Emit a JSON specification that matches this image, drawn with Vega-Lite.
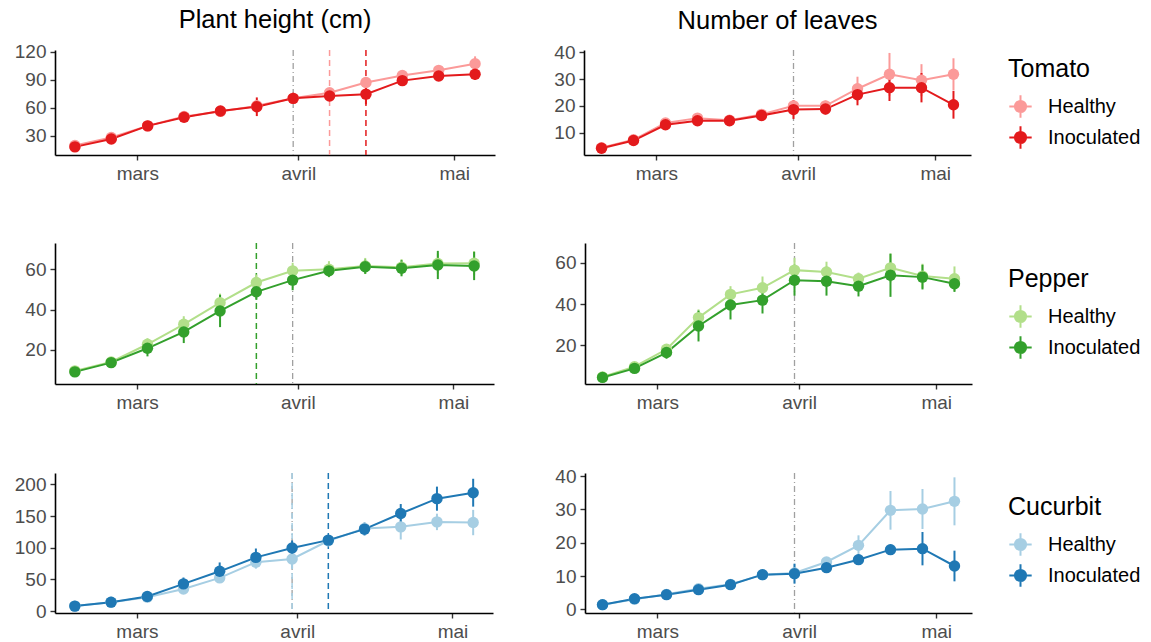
{
"$schema": "https://vega.github.io/schema/vega-lite/v6.json",
"padding": {"left": 14, "top": 8, "right": 0, "bottom": 0},
"columns": 1,
"spacing": 59,
"align": "none",
"resolve": {"scale": {"color": "independent"}, "legend": {"color": "independent"}},
"datasets": {
"main": [
{"c":"Tomato","t":"h","g":"Healthy","d":"2023-02-17","m":19.5,"e":2},
{"c":"Tomato","t":"h","g":"Healthy","d":"2023-02-24","m":28,"e":2},
{"c":"Tomato","t":"h","g":"Healthy","d":"2023-03-03","m":40.5,"e":2},
{"c":"Tomato","t":"h","g":"Healthy","d":"2023-03-10","m":50.5,"e":2},
{"c":"Tomato","t":"h","g":"Healthy","d":"2023-03-17","m":56,"e":4},
{"c":"Tomato","t":"h","g":"Healthy","d":"2023-03-24","m":62,"e":4},
{"c":"Tomato","t":"h","g":"Healthy","d":"2023-03-31","m":70,"e":5},
{"c":"Tomato","t":"h","g":"Healthy","d":"2023-04-07","m":76,"e":3},
{"c":"Tomato","t":"h","g":"Healthy","d":"2023-04-14","m":87,"e":4},
{"c":"Tomato","t":"h","g":"Healthy","d":"2023-04-21","m":94.5,"e":4},
{"c":"Tomato","t":"h","g":"Healthy","d":"2023-04-28","m":100,"e":4},
{"c":"Tomato","t":"h","g":"Healthy","d":"2023-05-05","m":107,"e":8},
{"c":"Tomato","t":"l","g":"Healthy","d":"2023-02-17","m":4.3,"e":0.5},
{"c":"Tomato","t":"l","g":"Healthy","d":"2023-02-24","m":7.3,"e":0.7},
{"c":"Tomato","t":"l","g":"Healthy","d":"2023-03-03","m":13.6,"e":1},
{"c":"Tomato","t":"l","g":"Healthy","d":"2023-03-10","m":15.4,"e":1.2},
{"c":"Tomato","t":"l","g":"Healthy","d":"2023-03-17","m":14.6,"e":1},
{"c":"Tomato","t":"l","g":"Healthy","d":"2023-03-24","m":16.8,"e":1},
{"c":"Tomato","t":"l","g":"Healthy","d":"2023-03-31","m":20,"e":2},
{"c":"Tomato","t":"l","g":"Healthy","d":"2023-04-07","m":20,"e":2},
{"c":"Tomato","t":"l","g":"Healthy","d":"2023-04-14","m":26.4,"e":4.5},
{"c":"Tomato","t":"l","g":"Healthy","d":"2023-04-21","m":31.8,"e":8},
{"c":"Tomato","t":"l","g":"Healthy","d":"2023-04-28","m":29.6,"e":6},
{"c":"Tomato","t":"l","g":"Healthy","d":"2023-05-05","m":31.8,"e":6},
{"c":"Pepper","t":"h","g":"Healthy","d":"2023-02-17","m":9.6,"e":1},
{"c":"Pepper","t":"h","g":"Healthy","d":"2023-02-24","m":14,"e":1.5},
{"c":"Pepper","t":"h","g":"Healthy","d":"2023-03-03","m":22.8,"e":3},
{"c":"Pepper","t":"h","g":"Healthy","d":"2023-03-10","m":32.7,"e":4},
{"c":"Pepper","t":"h","g":"Healthy","d":"2023-03-17","m":43.4,"e":4.5},
{"c":"Pepper","t":"h","g":"Healthy","d":"2023-03-24","m":53.4,"e":4},
{"c":"Pepper","t":"h","g":"Healthy","d":"2023-03-31","m":59.2,"e":4},
{"c":"Pepper","t":"h","g":"Healthy","d":"2023-04-07","m":60,"e":4},
{"c":"Pepper","t":"h","g":"Healthy","d":"2023-04-14","m":61.6,"e":4},
{"c":"Pepper","t":"h","g":"Healthy","d":"2023-04-21","m":61,"e":4},
{"c":"Pepper","t":"h","g":"Healthy","d":"2023-04-28","m":62.8,"e":5},
{"c":"Pepper","t":"h","g":"Healthy","d":"2023-05-05","m":63,"e":6},
{"c":"Pepper","t":"l","g":"Healthy","d":"2023-02-17","m":4.5,"e":0.5},
{"c":"Pepper","t":"l","g":"Healthy","d":"2023-02-24","m":9.5,"e":1},
{"c":"Pepper","t":"l","g":"Healthy","d":"2023-03-03","m":18,"e":2},
{"c":"Pepper","t":"l","g":"Healthy","d":"2023-03-10","m":33.4,"e":4},
{"c":"Pepper","t":"l","g":"Healthy","d":"2023-03-17","m":44.7,"e":4},
{"c":"Pepper","t":"l","g":"Healthy","d":"2023-03-24","m":47.9,"e":5.5},
{"c":"Pepper","t":"l","g":"Healthy","d":"2023-03-31","m":56.5,"e":6},
{"c":"Pepper","t":"l","g":"Healthy","d":"2023-04-07","m":55.6,"e":5},
{"c":"Pepper","t":"l","g":"Healthy","d":"2023-04-14","m":52.3,"e":3},
{"c":"Pepper","t":"l","g":"Healthy","d":"2023-04-21","m":57.6,"e":7},
{"c":"Pepper","t":"l","g":"Healthy","d":"2023-04-28","m":53.6,"e":6},
{"c":"Pepper","t":"l","g":"Healthy","d":"2023-05-05","m":52.3,"e":6},
{"c":"Cucurbit","t":"h","g":"Healthy","d":"2023-02-17","m":7.9,"e":2},
{"c":"Cucurbit","t":"h","g":"Healthy","d":"2023-02-24","m":14,"e":2},
{"c":"Cucurbit","t":"h","g":"Healthy","d":"2023-03-03","m":22,"e":3},
{"c":"Cucurbit","t":"h","g":"Healthy","d":"2023-03-10","m":35,"e":5},
{"c":"Cucurbit","t":"h","g":"Healthy","d":"2023-03-17","m":52.4,"e":8},
{"c":"Cucurbit","t":"h","g":"Healthy","d":"2023-03-24","m":77,"e":10},
{"c":"Cucurbit","t":"h","g":"Healthy","d":"2023-03-31","m":82.3,"e":15},
{"c":"Cucurbit","t":"h","g":"Healthy","d":"2023-04-07","m":111,"e":8},
{"c":"Cucurbit","t":"h","g":"Healthy","d":"2023-04-14","m":130.3,"e":10},
{"c":"Cucurbit","t":"h","g":"Healthy","d":"2023-04-21","m":133,"e":20},
{"c":"Cucurbit","t":"h","g":"Healthy","d":"2023-04-28","m":140.8,"e":13},
{"c":"Cucurbit","t":"h","g":"Healthy","d":"2023-05-05","m":139.8,"e":20},
{"c":"Cucurbit","t":"l","g":"Healthy","d":"2023-02-17","m":1.4,"e":0.3},
{"c":"Cucurbit","t":"l","g":"Healthy","d":"2023-02-24","m":3,"e":0.5},
{"c":"Cucurbit","t":"l","g":"Healthy","d":"2023-03-03","m":4.5,"e":0.7},
{"c":"Cucurbit","t":"l","g":"Healthy","d":"2023-03-10","m":6.2,"e":0.8},
{"c":"Cucurbit","t":"l","g":"Healthy","d":"2023-03-17","m":7.5,"e":1},
{"c":"Cucurbit","t":"l","g":"Healthy","d":"2023-03-24","m":10.4,"e":1},
{"c":"Cucurbit","t":"l","g":"Healthy","d":"2023-03-31","m":10.9,"e":1.5},
{"c":"Cucurbit","t":"l","g":"Healthy","d":"2023-04-07","m":14.2,"e":1.5},
{"c":"Cucurbit","t":"l","g":"Healthy","d":"2023-04-14","m":19.2,"e":3},
{"c":"Cucurbit","t":"l","g":"Healthy","d":"2023-04-21","m":29.7,"e":5.8},
{"c":"Cucurbit","t":"l","g":"Healthy","d":"2023-04-28","m":30.1,"e":6},
{"c":"Cucurbit","t":"l","g":"Healthy","d":"2023-05-05","m":32.4,"e":7.2},
{"c":"Tomato","t":"h","g":"Inoculated","d":"2023-02-17","m":18,"e":2},
{"c":"Tomato","t":"h","g":"Inoculated","d":"2023-02-24","m":26.5,"e":2},
{"c":"Tomato","t":"h","g":"Inoculated","d":"2023-03-03","m":40.5,"e":2},
{"c":"Tomato","t":"h","g":"Inoculated","d":"2023-03-10","m":49.7,"e":2},
{"c":"Tomato","t":"h","g":"Inoculated","d":"2023-03-17","m":56.5,"e":3},
{"c":"Tomato","t":"h","g":"Inoculated","d":"2023-03-24","m":61,"e":10},
{"c":"Tomato","t":"h","g":"Inoculated","d":"2023-03-31","m":70,"e":6},
{"c":"Tomato","t":"h","g":"Inoculated","d":"2023-04-07","m":72.5,"e":3},
{"c":"Tomato","t":"h","g":"Inoculated","d":"2023-04-14","m":74.5,"e":11},
{"c":"Tomato","t":"h","g":"Inoculated","d":"2023-04-21","m":89,"e":4},
{"c":"Tomato","t":"h","g":"Inoculated","d":"2023-04-28","m":94,"e":5},
{"c":"Tomato","t":"h","g":"Inoculated","d":"2023-05-05","m":95.8,"e":6},
{"c":"Tomato","t":"l","g":"Inoculated","d":"2023-02-17","m":4.1,"e":0.5},
{"c":"Tomato","t":"l","g":"Inoculated","d":"2023-02-24","m":7,"e":0.7},
{"c":"Tomato","t":"l","g":"Inoculated","d":"2023-03-03","m":12.9,"e":1},
{"c":"Tomato","t":"l","g":"Inoculated","d":"2023-03-10","m":14.4,"e":1},
{"c":"Tomato","t":"l","g":"Inoculated","d":"2023-03-17","m":14.4,"e":1},
{"c":"Tomato","t":"l","g":"Inoculated","d":"2023-03-24","m":16.4,"e":1},
{"c":"Tomato","t":"l","g":"Inoculated","d":"2023-03-31","m":18.6,"e":3.5},
{"c":"Tomato","t":"l","g":"Inoculated","d":"2023-04-07","m":18.8,"e":2},
{"c":"Tomato","t":"l","g":"Inoculated","d":"2023-04-14","m":24.2,"e":4},
{"c":"Tomato","t":"l","g":"Inoculated","d":"2023-04-21","m":26.8,"e":5},
{"c":"Tomato","t":"l","g":"Inoculated","d":"2023-04-28","m":26.8,"e":5.5},
{"c":"Tomato","t":"l","g":"Inoculated","d":"2023-05-05","m":20.4,"e":5.2},
{"c":"Pepper","t":"h","g":"Inoculated","d":"2023-02-17","m":9.1,"e":1},
{"c":"Pepper","t":"h","g":"Inoculated","d":"2023-02-24","m":13.7,"e":1.5},
{"c":"Pepper","t":"h","g":"Inoculated","d":"2023-03-03","m":20.8,"e":4},
{"c":"Pepper","t":"h","g":"Inoculated","d":"2023-03-10","m":28.9,"e":5.5},
{"c":"Pepper","t":"h","g":"Inoculated","d":"2023-03-17","m":39.3,"e":8},
{"c":"Pepper","t":"h","g":"Inoculated","d":"2023-03-24","m":48.8,"e":4},
{"c":"Pepper","t":"h","g":"Inoculated","d":"2023-03-31","m":54.6,"e":5},
{"c":"Pepper","t":"h","g":"Inoculated","d":"2023-04-07","m":59.2,"e":3},
{"c":"Pepper","t":"h","g":"Inoculated","d":"2023-04-14","m":61.2,"e":3.5},
{"c":"Pepper","t":"h","g":"Inoculated","d":"2023-04-21","m":60.5,"e":4},
{"c":"Pepper","t":"h","g":"Inoculated","d":"2023-04-28","m":62.1,"e":7},
{"c":"Pepper","t":"h","g":"Inoculated","d":"2023-05-05","m":61.6,"e":7},
{"c":"Pepper","t":"l","g":"Inoculated","d":"2023-02-17","m":4.3,"e":0.5},
{"c":"Pepper","t":"l","g":"Inoculated","d":"2023-02-24","m":8.7,"e":1},
{"c":"Pepper","t":"l","g":"Inoculated","d":"2023-03-03","m":16.4,"e":3},
{"c":"Pepper","t":"l","g":"Inoculated","d":"2023-03-10","m":29.3,"e":7.5},
{"c":"Pepper","t":"l","g":"Inoculated","d":"2023-03-17","m":39.5,"e":7},
{"c":"Pepper","t":"l","g":"Inoculated","d":"2023-03-24","m":41.9,"e":6.5},
{"c":"Pepper","t":"l","g":"Inoculated","d":"2023-03-31","m":51.6,"e":7.5},
{"c":"Pepper","t":"l","g":"Inoculated","d":"2023-04-07","m":51.1,"e":7},
{"c":"Pepper","t":"l","g":"Inoculated","d":"2023-04-14","m":48.7,"e":5},
{"c":"Pepper","t":"l","g":"Inoculated","d":"2023-04-21","m":54,"e":10.5},
{"c":"Pepper","t":"l","g":"Inoculated","d":"2023-04-28","m":53.1,"e":6},
{"c":"Pepper","t":"l","g":"Inoculated","d":"2023-05-05","m":49.9,"e":4},
{"c":"Cucurbit","t":"h","g":"Inoculated","d":"2023-02-17","m":7.9,"e":2},
{"c":"Cucurbit","t":"h","g":"Inoculated","d":"2023-02-24","m":14.1,"e":2},
{"c":"Cucurbit","t":"h","g":"Inoculated","d":"2023-03-03","m":23,"e":3},
{"c":"Cucurbit","t":"h","g":"Inoculated","d":"2023-03-10","m":43,"e":10},
{"c":"Cucurbit","t":"h","g":"Inoculated","d":"2023-03-17","m":62.8,"e":14},
{"c":"Cucurbit","t":"h","g":"Inoculated","d":"2023-03-24","m":84.8,"e":14},
{"c":"Cucurbit","t":"h","g":"Inoculated","d":"2023-03-31","m":99.5,"e":12},
{"c":"Cucurbit","t":"h","g":"Inoculated","d":"2023-04-07","m":112,"e":8},
{"c":"Cucurbit","t":"h","g":"Inoculated","d":"2023-04-14","m":129.4,"e":10},
{"c":"Cucurbit","t":"h","g":"Inoculated","d":"2023-04-21","m":154,"e":15},
{"c":"Cucurbit","t":"h","g":"Inoculated","d":"2023-04-28","m":177.5,"e":19},
{"c":"Cucurbit","t":"h","g":"Inoculated","d":"2023-05-05","m":186.9,"e":22},
{"c":"Cucurbit","t":"l","g":"Inoculated","d":"2023-02-17","m":1.4,"e":0.3},
{"c":"Cucurbit","t":"l","g":"Inoculated","d":"2023-02-24","m":3.2,"e":0.5},
{"c":"Cucurbit","t":"l","g":"Inoculated","d":"2023-03-03","m":4.4,"e":0.7},
{"c":"Cucurbit","t":"l","g":"Inoculated","d":"2023-03-10","m":5.9,"e":0.8},
{"c":"Cucurbit","t":"l","g":"Inoculated","d":"2023-03-17","m":7.4,"e":1},
{"c":"Cucurbit","t":"l","g":"Inoculated","d":"2023-03-24","m":10.4,"e":1},
{"c":"Cucurbit","t":"l","g":"Inoculated","d":"2023-03-31","m":10.7,"e":3},
{"c":"Cucurbit","t":"l","g":"Inoculated","d":"2023-04-07","m":12.5,"e":1.5},
{"c":"Cucurbit","t":"l","g":"Inoculated","d":"2023-04-14","m":14.9,"e":1.5},
{"c":"Cucurbit","t":"l","g":"Inoculated","d":"2023-04-21","m":17.9,"e":1.5},
{"c":"Cucurbit","t":"l","g":"Inoculated","d":"2023-04-28","m":18.2,"e":5},
{"c":"Cucurbit","t":"l","g":"Inoculated","d":"2023-05-05","m":13,"e":4.6}
],
"vl": [
{"c":"Tomato","t":"h","g":"Healthy","d":"2023-04-07"},
{"c":"Tomato","t":"h","g":"Inoculated","d":"2023-04-14"},
{"c":"Pepper","t":"h","g":"Inoculated","d":"2023-03-24"},
{"c":"Cucurbit","t":"h","g":"Healthy","d":"2023-03-31"},
{"c":"Cucurbit","t":"h","g":"Inoculated","d":"2023-04-07"}
],
"ref": [{"d":"2023-03-31"}]
},
"concat": [
{"spacing": 58, "hconcat": [
 {"width": 440, "height": 105,
  "title": {"text": "Plant height (cm)"},
  "layer": [
   {"data": {"name": "ref"}, "mark": {"type": "rule", "color": "#A0A0A0", "strokeWidth": 1.3, "strokeDash": [6,3,1,3]},
    "encoding": {"x": {"field": "d", "type": "temporal", "title": null, "scale": {"type": "utc", "domain": [{"year":2023,"month":2,"date":13,"hours":4,"utc":true},{"year":2023,"month":5,"date":8,"hours":20,"utc":true}]}, "axis": {"values": [{"year":2023,"month":3,"date":1,"utc":true},{"year":2023,"month":4,"date":1,"utc":true},{"year":2023,"month":5,"date":1,"utc":true}], "labelExpr": "['janv.','févr.','mars','avril','mai','juin'][utcmonth(datum.value)]"}}}},
   {"data": {"name": "vl"}, "transform": [{"filter": "datum.c=='Tomato' && datum.t=='h'"}], "mark": {"type": "rule", "strokeWidth": 1.5, "strokeDash": [6,4]},
    "encoding": {"x": {"field": "d", "type": "temporal"}, "color": {"field": "g", "type": "nominal", "title": "Tomato", "legend": {"orient": "none", "legendX": 953, "legendY": 7}, "scale": {"domain": ["Healthy","Inoculated"], "range": ["#FB9A99","#E31A1C"]}}}},
   {"data": {"name": "main"}, "transform": [{"filter": "datum.c=='Tomato' && datum.t=='h'"}],
    "encoding": {"x": {"field": "d", "type": "temporal"}, "y": {"field": "m", "type": "quantitative", "title": null, "scale": {"domain": [9.3,121.8], "nice": false, "zero": false}, "axis": {"values": [30,60,90,120]}}, "color": {"field": "g", "type": "nominal", "title": "Tomato", "legend": {"orient": "none", "legendX": 953, "legendY": 7}, "scale": {"domain": ["Healthy","Inoculated"], "range": ["#FB9A99","#E31A1C"]}}},
    "layer": [
     {"mark": {"type": "errorbar", "thickness": 2}, "encoding": {"yError": {"field": "e"}}},
     {"mark": {"type": "line", "strokeWidth": 2}},
     {"mark": {"type": "point", "filled": true, "size": 130, "opacity": 1}}
    ]}
  ]},
 {"width": 387, "height": 105,
  "title": {"text": "Number of leaves"},
  "layer": [
   {"data": {"name": "ref"}, "mark": {"type": "rule", "color": "#A0A0A0", "strokeWidth": 1.3, "strokeDash": [6,3,1,3]},
    "encoding": {"x": {"field": "d", "type": "temporal", "title": null, "scale": {"type": "utc", "domain": [{"year":2023,"month":2,"date":13,"hours":4,"utc":true},{"year":2023,"month":5,"date":8,"hours":20,"utc":true}]}, "axis": {"values": [{"year":2023,"month":3,"date":1,"utc":true},{"year":2023,"month":4,"date":1,"utc":true},{"year":2023,"month":5,"date":1,"utc":true}], "labelExpr": "['janv.','févr.','mars','avril','mai','juin'][utcmonth(datum.value)]"}}}},
   {"data": {"name": "main"}, "transform": [{"filter": "datum.c=='Tomato' && datum.t=='l'"}],
    "encoding": {"x": {"field": "d", "type": "temporal"}, "y": {"field": "m", "type": "quantitative", "title": null, "scale": {"domain": [1.6,40.9], "nice": false, "zero": false}, "axis": {"values": [10,20,30,40]}}, "color": {"field": "g", "type": "nominal", "title": "Tomato", "legend": {"orient": "none", "legendX": 953, "legendY": 7}, "scale": {"domain": ["Healthy","Inoculated"], "range": ["#FB9A99","#E31A1C"]}}},
    "layer": [
     {"mark": {"type": "errorbar", "thickness": 2}, "encoding": {"yError": {"field": "e"}}},
     {"mark": {"type": "line", "strokeWidth": 2}},
     {"mark": {"type": "point", "filled": true, "size": 130, "opacity": 1}}
    ]}
  ]}
]},
{"columns": 1, "spacing": 54, "align": "none", "resolve": {"scale": {"color": "independent"}, "legend": {"color": "independent"}}, "concat": [
{"spacing": 60, "hconcat": [
 {"width": 439, "height": 141,
  "layer": [
   {"data": {"name": "ref"}, "mark": {"type": "rule", "color": "#A0A0A0", "strokeWidth": 1.3, "strokeDash": [6,3,1,3]},
    "encoding": {"x": {"field": "d", "type": "temporal", "title": null, "scale": {"type": "utc", "domain": [{"year":2023,"month":2,"date":13,"hours":4,"utc":true},{"year":2023,"month":5,"date":8,"hours":20,"utc":true}]}, "axis": {"values": [{"year":2023,"month":3,"date":1,"utc":true},{"year":2023,"month":4,"date":1,"utc":true},{"year":2023,"month":5,"date":1,"utc":true}], "labelExpr": "['janv.','févr.','mars','avril','mai','juin'][utcmonth(datum.value)]"}}}},
   {"data": {"name": "vl"}, "transform": [{"filter": "datum.c=='Pepper' && datum.t=='h'"}], "mark": {"type": "rule", "strokeWidth": 1.5, "strokeDash": [6,4]},
    "encoding": {"x": {"field": "d", "type": "temporal"}, "color": {"field": "g", "type": "nominal", "title": "Pepper", "legend": {"orient": "none", "legendX": 953, "legendY": 24}, "scale": {"domain": ["Healthy","Inoculated"], "range": ["#B2DF8A","#33A02C"]}}}},
   {"data": {"name": "main"}, "transform": [{"filter": "datum.c=='Pepper' && datum.t=='h'"}],
    "encoding": {"x": {"field": "d", "type": "temporal"}, "y": {"field": "m", "type": "quantitative", "title": null, "scale": {"domain": [3.1,73], "nice": false, "zero": false}, "axis": {"values": [20,40,60]}}, "color": {"field": "g", "type": "nominal", "title": "Pepper", "legend": {"orient": "none", "legendX": 953, "legendY": 24}, "scale": {"domain": ["Healthy","Inoculated"], "range": ["#B2DF8A","#33A02C"]}}},
    "layer": [
     {"mark": {"type": "errorbar", "thickness": 2}, "encoding": {"yError": {"field": "e"}}},
     {"mark": {"type": "line", "strokeWidth": 2}},
     {"mark": {"type": "point", "filled": true, "size": 130, "opacity": 1}}
    ]}
  ]},
 {"width": 387, "height": 141,
  "layer": [
   {"data": {"name": "ref"}, "mark": {"type": "rule", "color": "#A0A0A0", "strokeWidth": 1.3, "strokeDash": [6,3,1,3]},
    "encoding": {"x": {"field": "d", "type": "temporal", "title": null, "scale": {"type": "utc", "domain": [{"year":2023,"month":2,"date":13,"hours":4,"utc":true},{"year":2023,"month":5,"date":8,"hours":20,"utc":true}]}, "axis": {"values": [{"year":2023,"month":3,"date":1,"utc":true},{"year":2023,"month":4,"date":1,"utc":true},{"year":2023,"month":5,"date":1,"utc":true}], "labelExpr": "['janv.','févr.','mars','avril','mai','juin'][utcmonth(datum.value)]"}}}},
   {"data": {"name": "main"}, "transform": [{"filter": "datum.c=='Pepper' && datum.t=='l'"}],
    "encoding": {"x": {"field": "d", "type": "temporal"}, "y": {"field": "m", "type": "quantitative", "title": null, "scale": {"domain": [1.1,69.7], "nice": false, "zero": false}, "axis": {"values": [20,40,60]}}, "color": {"field": "g", "type": "nominal", "title": "Pepper", "legend": {"orient": "none", "legendX": 953, "legendY": 24}, "scale": {"domain": ["Healthy","Inoculated"], "range": ["#B2DF8A","#33A02C"]}}},
    "layer": [
     {"mark": {"type": "errorbar", "thickness": 2}, "encoding": {"yError": {"field": "e"}}},
     {"mark": {"type": "line", "strokeWidth": 2}},
     {"mark": {"type": "point", "filled": true, "size": 130, "opacity": 1}}
    ]}
  ]}
]},
{"spacing": 61, "hconcat": [
 {"width": 438, "height": 140,
  "layer": [
   {"data": {"name": "ref"}, "mark": {"type": "rule", "color": "#A0A0A0", "strokeWidth": 1.3, "strokeDash": [6,3,1,3]},
    "encoding": {"x": {"field": "d", "type": "temporal", "title": null, "scale": {"type": "utc", "domain": [{"year":2023,"month":2,"date":13,"hours":4,"utc":true},{"year":2023,"month":5,"date":8,"hours":20,"utc":true}]}, "axis": {"values": [{"year":2023,"month":3,"date":1,"utc":true},{"year":2023,"month":4,"date":1,"utc":true},{"year":2023,"month":5,"date":1,"utc":true}], "labelExpr": "['janv.','févr.','mars','avril','mai','juin'][utcmonth(datum.value)]"}}}},
   {"data": {"name": "vl"}, "transform": [{"filter": "datum.c=='Cucurbit' && datum.t=='h'"}], "mark": {"type": "rule", "strokeWidth": 1.5, "strokeDash": [6,4]},
    "encoding": {"x": {"field": "d", "type": "temporal"}, "color": {"field": "g", "type": "nominal", "title": "Cucurbit", "legend": {"orient": "none", "legendX": 953, "legendY": 22}, "scale": {"domain": ["Healthy","Inoculated"], "range": ["#A6CEE3","#1F78B4"]}}}},
   {"data": {"name": "main"}, "transform": [{"filter": "datum.c=='Cucurbit' && datum.t=='h'"}],
    "encoding": {"x": {"field": "d", "type": "temporal"}, "y": {"field": "m", "type": "quantitative", "title": null, "scale": {"domain": [-3,218], "nice": false, "zero": false}, "axis": {"values": [0,50,100,150,200]}}, "color": {"field": "g", "type": "nominal", "title": "Cucurbit", "legend": {"orient": "none", "legendX": 953, "legendY": 22}, "scale": {"domain": ["Healthy","Inoculated"], "range": ["#A6CEE3","#1F78B4"]}}},
    "layer": [
     {"mark": {"type": "errorbar", "thickness": 2}, "encoding": {"yError": {"field": "e"}}},
     {"mark": {"type": "line", "strokeWidth": 2}},
     {"mark": {"type": "point", "filled": true, "size": 130, "opacity": 1}}
    ]}
  ]},
 {"width": 387, "height": 140,
  "layer": [
   {"data": {"name": "ref"}, "mark": {"type": "rule", "color": "#A0A0A0", "strokeWidth": 1.3, "strokeDash": [6,3,1,3]},
    "encoding": {"x": {"field": "d", "type": "temporal", "title": null, "scale": {"type": "utc", "domain": [{"year":2023,"month":2,"date":13,"hours":4,"utc":true},{"year":2023,"month":5,"date":8,"hours":20,"utc":true}]}, "axis": {"values": [{"year":2023,"month":3,"date":1,"utc":true},{"year":2023,"month":4,"date":1,"utc":true},{"year":2023,"month":5,"date":1,"utc":true}], "labelExpr": "['janv.','févr.','mars','avril','mai','juin'][utcmonth(datum.value)]"}}}},
   {"data": {"name": "main"}, "transform": [{"filter": "datum.c=='Cucurbit' && datum.t=='l'"}],
    "encoding": {"x": {"field": "d", "type": "temporal"}, "y": {"field": "m", "type": "quantitative", "title": null, "scale": {"domain": [-1.1,40.9], "nice": false, "zero": false}, "axis": {"values": [0,10,20,30,40]}}, "color": {"field": "g", "type": "nominal", "title": "Cucurbit", "legend": {"orient": "none", "legendX": 953, "legendY": 22}, "scale": {"domain": ["Healthy","Inoculated"], "range": ["#A6CEE3","#1F78B4"]}}},
    "layer": [
     {"mark": {"type": "errorbar", "thickness": 2}, "encoding": {"yError": {"field": "e"}}},
     {"mark": {"type": "line", "strokeWidth": 2}},
     {"mark": {"type": "point", "filled": true, "size": 130, "opacity": 1}}
    ]}
  ]}
]}
]}
],
"config": {
 "font": "Liberation Sans",
 "view": {"stroke": null},
 "concat": {"spacing": 58},
 "title": {"fontSize": 25.5, "fontWeight": "normal", "color": "black", "anchor": "middle", "frame": "group", "offset": 9},
 "axis": {"grid": false, "domainColor": "black", "domainWidth": 1.6, "tickColor": "#333333", "tickWidth": 1.4, "tickSize": 5, "labelFontSize": 19, "labelColor": "#4D4D4D", "labelPadding": 4},
 "legend": {"titleFontSize": 25, "titleFontWeight": "normal", "titleColor": "black", "labelFontSize": 20, "labelColor": "black", "symbolType": "M-1,0H1M0,-1V1M-0.5,0A0.5,0.5,0,1,1,0.5,0A0.5,0.5,0,1,1,-0.5,0", "symbolSize": 500, "symbolStrokeWidth": 2, "rowPadding": 0, "titlePadding": 12, "labelOffset": 15}
}
}
